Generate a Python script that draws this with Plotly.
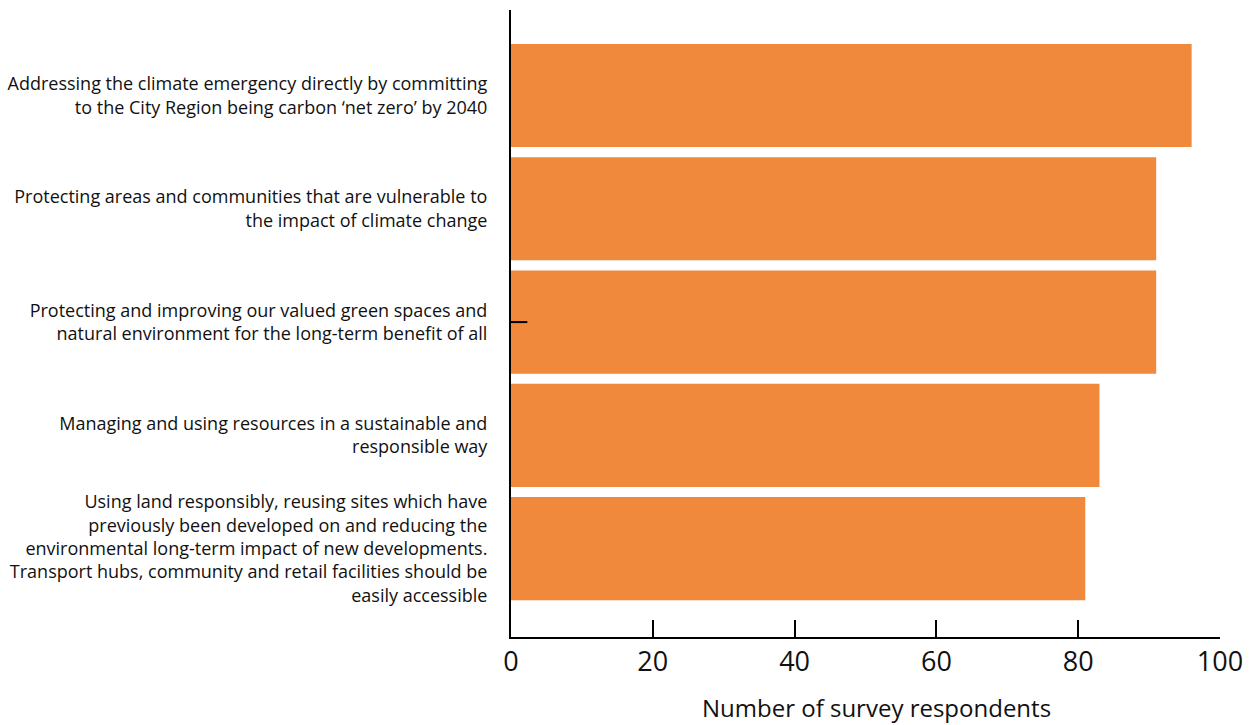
import plotly.graph_objects as go

# Survey priorities (top to bottom) and respondent counts
priorities = [
    "Addressing the climate emergency directly by committing<br>to the City Region being carbon \u2018net zero\u2019 by 2040",
    "Protecting areas and communities that are vulnerable to<br>the impact of climate change",
    "Protecting and improving our valued green spaces and<br>natural environment for the long-term benefit of all",
    "Managing and using resources in a sustainable and<br>responsible way",
    "Using land responsibly, reusing sites which have<br>previously been developed on and reducing the<br>environmental long-term impact of new developments.<br>Transport hubs, community and retail facilities should be<br>easily accessible",
]
respondents = [96, 91, 91, 83, 81]

x_ticks = [0, 20, 40, 60, 80, 100]
x_title = "Number of survey respondents"

BAR_COLOR = "#F0893B"
LABEL_FONT = "'Open Sans', sans-serif"

fig = go.Figure(
    go.Bar(
        x=respondents,
        y=priorities,
        orientation="h",
        marker=dict(color=BAR_COLOR, line=dict(width=0)),
        width=0.91,
        hoverinfo="x+y",
    )
)

fig.update_layout(
    width=1257,
    height=725,
    margin=dict(l=511, r=37, t=10, b=88),
    plot_bgcolor="white",
    paper_bgcolor="white",
    showlegend=False,
    font=dict(family=LABEL_FONT, color="#111111"),
)

fig.update_xaxes(
    range=[0, 100],
    tickvals=x_ticks,
    ticks="inside",
    ticklen=17,
    tickwidth=2,
    tickcolor="black",
    showline=True,
    linecolor="black",
    linewidth=2,
    showgrid=False,
    zeroline=False,
    automargin=False,
    tickfont=dict(family="'Open Sans', sans-serif", size=27, color="#111111"),
)

fig.update_yaxes(
    categoryorder="array",
    categoryarray=priorities,
    range=[4.78, -0.755],
    showline=True,
    linecolor="black",
    linewidth=2,
    showgrid=False,
    zeroline=False,
    automargin=False,
    ticks="",
    ticklabelstandoff=18,
    tickfont=dict(family=LABEL_FONT, size=18, color="#111111"),
)

# axis title, placed slightly right of the plot centre
fig.add_annotation(
    text=x_title,
    xref="x domain", yref="paper",
    x=0.5, y=0,
    xshift=11, yshift=-52,
    xanchor="center", yanchor="top",
    showarrow=False,
    font=dict(family=LABEL_FONT, size=24, color="#111111"),
)

# short marker on the vertical axis at the middle category
fig.add_shape(
    type="line",
    xref="x", yref="y",
    x0=0, x1=2.3,
    y0=priorities[2], y1=priorities[2],
    line=dict(color="black", width=2),
)

fig.write_html("out.html")
